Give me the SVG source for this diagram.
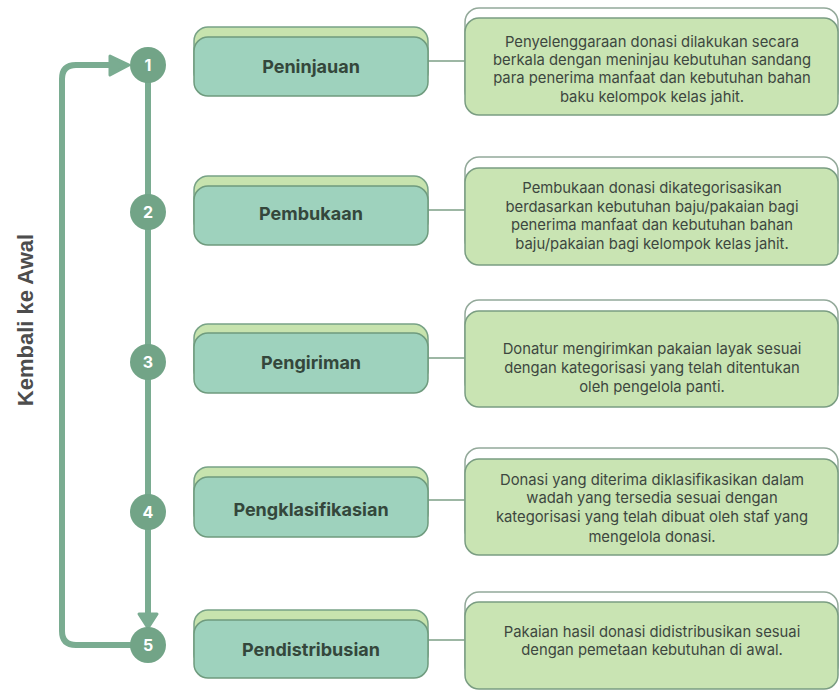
<svg xmlns="http://www.w3.org/2000/svg" width="839" height="693" viewBox="0 0 839 693">
<style>
.tb{fill:#c7e3ae;stroke:#78a286;stroke-width:1.5}
.tf{fill:#9ed2bd;stroke:#6f9b7e;stroke-width:1.5}
.db{fill:#ffffff;stroke:#93a99a;stroke-width:1.5}
.df{fill:#c9e4b3;stroke:#7a9d82;stroke-width:1.5}
.tt{font-family:Inter,"Liberation Sans",sans-serif;font-weight:700;font-size:18px;fill:#34473b;text-anchor:middle}
.dt{font-family:Inter,"Liberation Sans",sans-serif;font-size:14.8px;fill:#3d4740;text-anchor:middle}
.num{font-family:Inter,"Liberation Sans",sans-serif;font-weight:700;font-size:16px;fill:#ffffff;text-anchor:middle}
.cir{fill:#72a487}
.flow{fill:none;stroke:#7aac91;stroke-width:6}
.link{fill:none;stroke:#7d9f86;stroke-width:1.5}
.head{fill:#7aac91;stroke:#7aac91;stroke-width:3;stroke-linejoin:round}
</style>
<rect width="839" height="693" fill="#ffffff"/>
<text x="0" y="0" transform="translate(33,320) rotate(-90)" font-family="'Liberation Sans',Arial,sans-serif" font-weight="700" font-size="22" fill="#4d4d4d" text-anchor="middle">Kembali ke Awal</text>
<g id="connectors">
<path class="flow" d="M112 65 H76 Q62 65 62 79 V631 Q62 645 76 645 H132"/>
<path class="flow" d="M148 65 V614"/>
<polygon class="head" points="110,56 129,65 110,75"/>
<polygon class="head" points="139,614 157,614 148,628"/>
<path class="link" d="M428 61 H465"/>
<path class="link" d="M428 210 H465"/>
<path class="link" d="M428 358 H465"/>
<path class="link" d="M428 500 H465"/>
<path class="link" d="M428 640 H465"/>
</g>
<g id="step1">
<circle class="cir" cx="148" cy="65" r="18"/><text class="num" x="148" y="71">1</text>
<rect class="tb" x="194" y="27" width="234" height="59" rx="14"/>
<rect class="tf" x="194" y="37" width="234" height="59" rx="14"/>
<text class="tt" x="311" y="73">Peninjauan</text>
</g>
<g id="desc1">
<rect class="db" x="465" y="8" width="373" height="97" rx="14"/>
<rect class="df" x="465" y="18" width="373" height="97" rx="14"/>
<text class="dt" x="652" y="47">Penyelenggaraan donasi dilakukan secara</text>
<text class="dt" x="652" y="65">berkala dengan meninjau kebutuhan sandang</text>
<text class="dt" x="652" y="83">para penerima manfaat dan kebutuhan bahan</text>
<text class="dt" x="652" y="102">baku kelompok kelas jahit.</text>
</g>
<g id="step2">
<circle class="cir" cx="148" cy="212" r="18"/><text class="num" x="148" y="218">2</text>
<rect class="tb" x="194" y="176" width="234" height="59" rx="14"/>
<rect class="tf" x="194" y="186" width="234" height="59" rx="14"/>
<text class="tt" x="311" y="220">Pembukaan</text>
</g>
<g id="desc2">
<rect class="db" x="465" y="157" width="373" height="97" rx="14"/>
<rect class="df" x="465" y="168" width="373" height="97" rx="14"/>
<text class="dt" x="652" y="193">Pembukaan donasi dikategorisasikan</text>
<text class="dt" x="652" y="212">berdasarkan kebutuhan baju/pakaian bagi</text>
<text class="dt" x="652" y="230">penerima manfaat dan kebutuhan bahan</text>
<text class="dt" x="652" y="249">baju/pakaian bagi kelompok kelas jahit.</text>
</g>
<g id="step3">
<circle class="cir" cx="148" cy="362" r="18"/><text class="num" x="148" y="368">3</text>
<rect class="tb" x="194" y="324" width="234" height="60" rx="14"/>
<rect class="tf" x="194" y="333" width="234" height="60" rx="14"/>
<text class="tt" x="311" y="369">Pengiriman</text>
</g>
<g id="desc3">
<rect class="db" x="465" y="300" width="373" height="96" rx="14"/>
<rect class="df" x="465" y="311" width="373" height="96" rx="14"/>
<text class="dt" x="652" y="354">Donatur mengirimkan pakaian layak sesuai</text>
<text class="dt" x="652" y="373">dengan kategorisasi yang telah ditentukan</text>
<text class="dt" x="652" y="392">oleh pengelola panti.</text>
</g>
<g id="step4">
<circle class="cir" cx="148" cy="512" r="18"/><text class="num" x="148" y="518">4</text>
<rect class="tb" x="194" y="467" width="234" height="60" rx="14"/>
<rect class="tf" x="194" y="477" width="234" height="60" rx="14"/>
<text class="tt" x="311" y="516">Pengklasifikasian</text>
</g>
<g id="desc4">
<rect class="db" x="465" y="448" width="373" height="96" rx="14"/>
<rect class="df" x="465" y="459" width="373" height="96" rx="14"/>
<text class="dt" x="652" y="485">Donasi yang diterima diklasifikasikan dalam</text>
<text class="dt" x="652" y="503">wadah yang tersedia sesuai dengan</text>
<text class="dt" x="652" y="522">kategorisasi yang telah dibuat oleh staf yang</text>
<text class="dt" x="652" y="542">mengelola donasi.</text>
</g>
<g id="step5">
<circle class="cir" cx="148" cy="645" r="18"/><text class="num" x="148" y="651">5</text>
<rect class="tb" x="194" y="610" width="234" height="58" rx="14"/>
<rect class="tf" x="194" y="620" width="234" height="58" rx="14"/>
<text class="tt" x="311" y="656">Pendistribusian</text>
</g>
<g id="desc5">
<rect class="db" x="465" y="592" width="373" height="87" rx="14"/>
<rect class="df" x="465" y="602" width="373" height="87" rx="14"/>
<text class="dt" x="652" y="637">Pakaian hasil donasi didistribusikan sesuai</text>
<text class="dt" x="652" y="655">dengan pemetaan kebutuhan di awal.</text>
</g>
</svg>
